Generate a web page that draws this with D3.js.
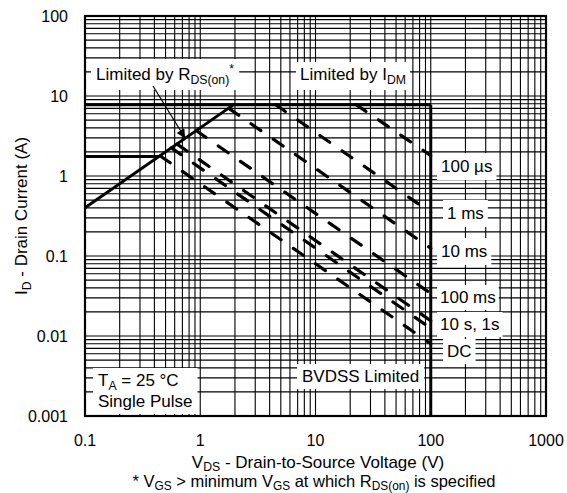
<!DOCTYPE html>
<html>
<head>
<meta charset="utf-8">
<script src="https://cdn.jsdelivr.net/npm/d3@7"></script>
<style>
  body { margin: 0; background: #fff; }
  text { font-family: "Liberation Sans", Arial, Helvetica, sans-serif; fill: #000; }
</style>
</head>
<body>
<svg id="soa" width="567" height="493"></svg>
<script>
// axis ticks
const xTicks = [0.1, 1, 10, 100, 1000];
const yTicks = [0.001, 0.01, 0.1, 1, 10, 100];

// limit lines, [V, A]
const rdsLine = [[0.1, 0.4], [1.95, 7.8]];
const idmLine = [[0.1, 7.8], [100, 7.8]];
const bvdssLine = [[100, 7.8], [100, 0.001]];
const idLine = [[0.1, 1.75], [0.44, 1.75]];

// pulse lines (start / end)
const pulseNames = ["100 µs", "1 ms", "10 ms", "100 ms", "1 s", "10 s", "DC"];
const pulseStart = [[22.5, 7.8], [4.5, 7.8], [1.77, 7.0], [0.92, 3.7], [0.63, 2.5], [0.56, 2.25], [0.45, 1.78]];
const pulseEnd = [[100, 1.8], [100, 0.35], [100, 0.125], [100, 0.034], [100, 0.0155], [100, 0.0125], [100, 0.008]];

const svg = d3.select("#soa");
const plot = {left: 85, right: 546, top: 16, bottom: 416};

const x = d3.scaleLog().domain([0.1, 1000]).range([plot.left, plot.right]);
const y = d3.scaleLog().domain([0.001, 100]).range([plot.bottom, plot.top]);

// grid: 1..9 in every decade
const xGrid = [], yGrid = [];
for (let e = -1; e < 3; e++) for (let k = 1; k < 10; k++) xGrid.push(k * Math.pow(10, e));
for (let e = -3; e < 2; e++) for (let k = 1; k < 10; k++) yGrid.push(k * Math.pow(10, e));

const grid = svg.append("g").attr("stroke", "#000").attr("stroke-width", 1.1);
grid.selectAll(".gx").data(xGrid).join("line")
    .attr("x1", d => x(d)).attr("x2", d => x(d))
    .attr("y1", plot.top).attr("y2", plot.bottom);
grid.selectAll(".gy").data(yGrid).join("line")
    .attr("y1", d => y(d)).attr("y2", d => y(d))
    .attr("x1", plot.left).attr("x2", plot.right);

const line = d3.line().x(d => x(d[0])).y(d => y(d[1]));

// pulse lines
svg.append("g").selectAll("path")
    .data(pulseNames.map((n, i) => [pulseStart[i], pulseEnd[i]]))
    .join("path")
    .attr("d", line)
    .attr("fill", "none")
    .attr("stroke", "#000")
    .attr("stroke-width", 3.2)
    .attr("stroke-dasharray", "12,15")
    .attr("stroke-linecap", "round");

// limit lines
svg.append("g").selectAll("path")
    .data([rdsLine, idmLine, bvdssLine, idLine])
    .join("path")
    .attr("d", line)
    .attr("fill", "none")
    .attr("stroke", "#000")
    .attr("stroke-width", 3);

// frame
svg.append("rect")
    .attr("x", plot.left).attr("y", plot.top)
    .attr("width", plot.right - plot.left).attr("height", plot.bottom - plot.top)
    .attr("fill", "none").attr("stroke", "#000").attr("stroke-width", 2.2);

// tick labels
svg.append("g").selectAll("text").data(xTicks).join("text")
    .attr("x", d => x(d)).attr("y", 446)
    .attr("text-anchor", "middle")
    .style("font-size", "16px")
    .text(d => d3.format("~g")(d));
svg.append("g").selectAll("text").data(yTicks).join("text")
    .attr("x", 68).attr("y", d => y(d) + 6)
    .attr("text-anchor", "end")
    .style("font-size", "16px")
    .text(d => d3.format("~g")(d));

// text helper with subscripts: parts = [[text, sub?], ...]
function rich(g, parts, size, subDy = 4) {
    const t = g.append("text").style("font-size", size + "px");
    let shift = 0;
    parts.forEach(p => {
        const want = p[1] === "sub" ? subDy : p[1] === "sup" ? -7 : 0;
        t.append("tspan")
            .attr("dy", want - shift)
            .style("font-size", p[1] ? (size * 0.72) + "px" : size + "px")
            .text(p[0]);
        shift = want;
    });
    return t;
}

function boxed(parts, tx, ty, size, pad) {
    const g = svg.append("g");
    const bg = g.append("rect").attr("fill", "#fff");
    const t = rich(g, parts, size).attr("x", tx).attr("y", ty);
    const b = t.node().getBBox();
    bg.attr("x", b.x - pad[0]).attr("y", b.y - pad[1])
      .attr("width", b.width + 2 * pad[0]).attr("height", b.height + 2 * pad[1]);
    return g;
}

boxed([["Limited by R"], ["DS(on)", "sub"], ["*", "sup"]], 96, 80, 17, [5, 3]);
boxed([["Limited by I"], ["DM", "sub"]], 300, 80, 17, [4, 3]);
boxed([["100 µs"]], 441, 172, 17, [4, 4]);
boxed([["1 ms"]], 447, 219, 17, [4, 4]);
boxed([["10 ms"]], 441, 257, 17, [4, 4]);
boxed([["100 ms"]], 440, 303, 17, [3, 3]);
boxed([["10 s, 1s"]], 440, 330, 17, [3, 3]);
boxed([["DC"]], 447, 357, 17, [4, 3]);
boxed([["BVDSS Limited"]], 302, 382, 17, [5, 3]);

const ta = svg.append("g");
const taBg = ta.append("rect").attr("fill", "#fff");
const t1 = rich(ta, [["T"], ["A", "sub"], [" = 25 °C"]], 17).attr("x", 98).attr("y", 386);
const t2 = rich(ta, [["Single Pulse"]], 17).attr("x", 98).attr("y", 407);
const b1 = t1.node().getBBox(), b2 = t2.node().getBBox();
taBg.attr("x", b1.x - 5).attr("y", b1.y - 3)
    .attr("width", Math.max(b1.width, b2.width) + 10)
    .attr("height", b2.y + b2.height - b1.y + 6);

// arrow to Rds(on) line
svg.append("defs").append("marker")
    .attr("id", "head").attr("viewBox", "0 0 10 10")
    .attr("refX", 10).attr("refY", 5)
    .attr("markerWidth", 14).attr("markerHeight", 9)
    .attr("markerUnits", "userSpaceOnUse")
    .attr("orient", "auto")
    .append("path").attr("d", "M0,0L10,5L0,10Z").attr("fill", "#000");
svg.append("line")
    .attr("x1", 153).attr("y1", 86)
    .attr("x2", x(0.74)).attr("y2", y(2.96))
    .attr("stroke", "#000").attr("stroke-width", 1.2)
    .attr("marker-end", "url(#head)");

// axis titles
rich(svg, [["V"], ["DS", "sub"], [" - Drain-to-Source Voltage (V)"]], 17, 3)
    .attr("x", 318).attr("y", 468).attr("text-anchor", "middle");
rich(svg, [["* V"], ["GS", "sub"], [" > minimum V"], ["GS", "sub"], [" at which R"], ["DS(on)", "sub"], [" is specified"]], 16.5, 3)
    .attr("x", 314).attr("y", 487).attr("text-anchor", "middle");
rich(svg, [["I"], ["D", "sub"], [" - Drain Current (A)"]], 17)
    .attr("text-anchor", "middle")
    .attr("transform", `translate(27,${(plot.top + plot.bottom) / 2}) rotate(-90)`);
</script>
</body>
</html>
